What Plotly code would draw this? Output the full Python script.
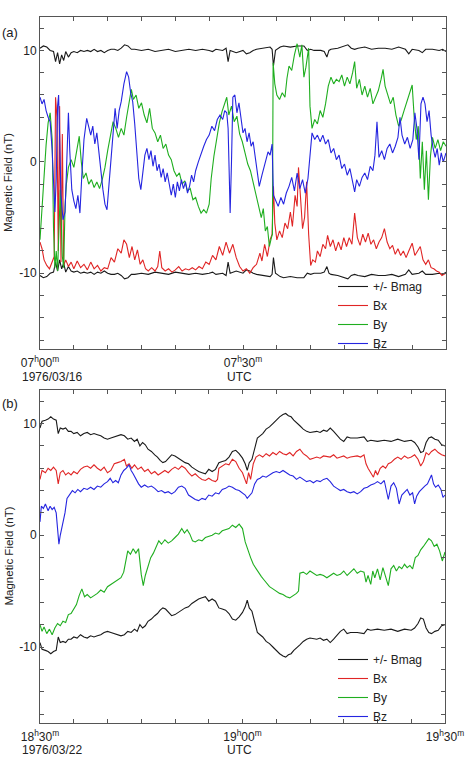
import plotly.graph_objects as go

W, H = 465, 759

# ---------------- Panel (a): 1976/03/16 07:00-08:00 UTC (minutes after 07:00) ----------------
a_bmag_t = [0, 0.5, 1.0, 1.5, 2.0, 2.3, 2.6, 2.9, 3.2, 3.5, 3.8, 4.2, 4.6, 5.0, 5.5, 6.0, 6.5, 7, 7.5, 8, 8.5, 9, 9.5, 10,
            10.5, 11, 11.5, 12, 12.5, 13, 13.5, 14, 15, 16, 17, 18, 19, 20, 21, 22, 23, 24, 25, 25.5, 26, 27, 27.5, 27.8,
            28.1, 28.5, 29, 30, 30.5, 31, 31.5, 32, 33, 34, 34.3, 34.5, 34.8, 35.5, 36, 37, 38, 39, 39.5, 40, 40.5, 41.5,
            42, 42.4, 42.7, 43, 44, 45, 45.5, 46, 46.5, 47, 48, 49, 50, 51, 52, 53, 54, 54.5, 55, 56, 56.5, 57, 58, 59,
            59.5, 60]
a_bmag_v = [10.2, 10.4, 10.3, 10.0, 9.9, 9.0, 9.8, 8.8, 9.6, 9.1, 9.9, 9.4, 9.8, 9.9, 9.8, 10.0, 9.9, 10.0, 9.9, 10.1,
            9.9, 10.0, 9.8, 10.0, 10.1, 10.1, 10.0, 10.2, 10.5, 10.4, 10.1, 10.1, 10.0, 10.1, 9.9, 10.0, 10.1, 9.9, 10.0,
            10.1, 10.0, 10.1, 10.0, 9.9, 10.1, 10.0, 10.2, 9.0, 10.0, 9.9, 9.8, 10.0, 9.7, 9.8, 10.0, 10.1, 10.2, 10.3,
            10.1, 8.6, 10.0, 10.3, 10.4, 10.3, 10.4, 10.4, 10.0, 10.1, 10.0, 10.0, 9.9, 9.4, 10.0, 10.1, 10.2, 10.4, 10.5,
            10.2, 10.1, 10.2, 10.3, 10.1, 10.2, 10.2, 10.1, 10.3, 10.1, 9.7, 10.1, 10.0, 9.8, 10.1, 10.1, 10.0, 10.1, 9.9]

a_bx_t = [0, 0.3, 0.6, 1.0, 1.4, 1.8, 2.1, 2.3, 2.5, 2.7, 2.9, 3.1, 3.3, 3.5, 3.8, 4.2, 4.6, 5.0, 5.5, 6.0, 6.5, 7.0, 7.5,
          8.0, 8.5, 9.0, 9.5, 10.0, 10.5, 11.0, 11.5, 12.0, 12.4, 12.8, 13.2, 13.6, 14.0, 14.4, 14.8, 15.2, 15.6, 16.0,
          16.5, 17.0, 17.4, 17.7, 18.0, 18.5, 19.0, 19.5, 20, 20.5, 21, 21.5, 22, 22.5, 23, 23.5, 24, 24.5, 25, 25.5, 26,
          26.5, 27, 27.5, 28, 28.5, 29, 29.5, 30, 30.5, 31, 31.5, 32, 32.5, 32.8, 33.2, 33.6, 34.0, 34.3, 34.5, 34.7, 35.0,
          35.4, 35.8, 36.2, 36.6, 37.0, 37.3, 37.7, 38.0, 38.2, 38.5, 38.8, 39.1, 39.4, 39.7, 40.0, 40.3, 40.7, 41.0, 41.4,
          41.8, 42.2, 42.5, 42.9, 43.3, 43.7, 44.1, 44.5, 44.9, 45.3, 45.7, 46.1, 46.5, 46.9, 47.3, 47.7, 48.1, 48.5, 48.9,
          49.3, 49.7, 50.1, 50.5, 50.9, 51.3, 51.7, 52.1, 52.5, 52.9, 53.3, 53.7, 54.1, 54.5, 55.0, 55.4, 55.8, 56.2, 56.6,
          57.0, 57.4, 57.8, 58.2, 58.6, 59.0, 59.4, 60]
a_bx_v = [-7.2, -7.8, -8.8, -9.3, -9.6, -9.0, -8.5, 5.8, 4.0, -8.0, 5.0, -9.0, 2.5, -9.3, -8.8, -9.4, -9.0, -9.6, -8.9,
          -9.5, -9.2, -9.7, -9.0, -9.6, -9.3, -9.8, -9.5, -9.6, -8.6, -9.0, -7.8, -8.2, -7.0, -7.4, -8.6, -7.6, -8.8, -7.9,
          -9.2, -8.8, -9.6, -9.8, -9.5, -9.8, -9.4, -8.0, -9.5, -9.8, -9.6, -9.9, -9.7, -9.4, -9.8, -9.6, -9.7, -9.5, -9.7,
          -9.4, -9.6, -9.0, -9.2, -8.4, -8.8, -7.6, -8.4, -7.2, -8.2, -7.4, -8.6, -9.4, -9.8, -9.6, -10.0, -9.5, -9.2, -8.2,
          -8.9, -7.4, -8.5, -7.0, -6.5, -2.2, -5.5, -7.0, -6.2, -6.8, -5.5, -6.0, -4.5, -5.8, -3.0, -4.0, -0.5, -3.2, -6.0,
          -5.0, -1.8, -6.5, -9.3, -8.8, -9.0, -8.0, -8.5, -7.4, -7.8, -6.6, -7.6, -7.0, -8.0, -7.2, -7.9, -6.8, -7.6, -6.8,
          -7.4, -4.6, -6.8, -7.5, -6.5, -7.2, -6.4, -7.4, -7.0, -7.8, -7.2, -6.8, -6.0, -7.2, -7.8, -7.5, -8.3, -7.8, -8.4,
          -8.0, -8.6, -8.0, -7.3, -8.4, -8.0, -7.6, -8.8, -9.2, -8.8, -9.5, -9.6, -9.8, -9.9, -10.2, -10.0]

a_by_t = [0, 0.3, 0.6, 0.9, 1.2, 1.5, 1.8, 2.0, 2.2, 2.4, 2.6, 2.8, 3.0, 3.3, 3.5, 3.7, 3.9, 4.2, 4.6, 5.0, 5.4, 5.8, 6.1,
          6.4, 6.8, 7.2, 7.6, 8.0, 8.4, 8.8, 9.2, 9.6, 10.0, 10.4, 10.8, 11.2, 11.6, 12.0, 12.4, 12.8, 13.2, 13.5, 13.8,
          14.2, 14.6, 15.0, 15.4, 15.8, 16.2, 16.6, 17.0, 17.4, 17.8, 18.2, 18.6, 19.0, 19.4, 19.8, 20.2, 20.6, 21.0, 21.4,
          21.8, 22.2, 22.6, 23.0, 23.4, 23.8, 24.2, 24.6, 25.0, 25.3, 25.7, 26.1, 26.5, 26.9, 27.3, 27.6, 27.9, 28.3, 28.7,
          29.1, 29.5, 29.9, 30.3, 30.7, 31.1, 31.5, 31.9, 32.3, 32.7, 33.0, 33.3, 33.6, 33.9, 34.2, 34.35, 34.45, 34.7,
          35.0, 35.4, 35.8, 36.2, 36.5, 36.8, 37.2, 37.6, 38.0, 38.4, 38.7, 39.0, 39.3, 39.7, 39.9, 40.2, 40.6, 41.0, 41.4,
          41.8, 42.2, 42.6, 43.0, 43.4, 43.8, 44.2, 44.6, 45.0, 45.4, 45.8, 46.2, 46.5, 46.8, 47.2, 47.6, 48.0, 48.4, 48.8,
          49.2, 49.6, 50.0, 50.4, 50.7, 51.0, 51.4, 51.8, 52.2, 52.6, 53.0, 53.4, 53.8, 54.2, 54.6, 55.0, 55.3, 55.6, 55.9,
          56.2, 56.5, 56.8, 57.1, 57.4, 57.7, 58.0, 58.4, 58.8, 59.2, 59.6, 60]
a_by_v = [-7.0, -4.0, -1.0, 1.5, 3.5, 4.4, 2.0, -6.0, -9.5, -8.0, -9.8, -5.0, -2.5, -8.5, -9.5, -4.0, -2.0, -0.5, 0.2,
          -0.5, 0.8, 2.3, 0.0, -1.5, -1.0, -2.0, -1.6, -2.3, -1.8, -2.4, -1.6, -0.5, 1.0, 2.2, 3.6, 3.0, 2.2, 3.0, 2.4, 4.0,
          5.5, 6.5, 5.6, 6.0, 4.8, 5.3, 4.2, 3.5, 4.8, 3.0, 2.6, 1.8, 2.4, 1.2, 1.6, 0.6, 0.2, -0.8, -1.3, -1.0, -2.0, -1.7,
          -2.6, -2.4, -3.4, -3.2, -4.0, -4.6, -4.3, -4.6, -3.8, -1.5, 0.5, 2.2, 3.5, 4.5, 5.2, 5.8, 4.2, 5.0, 3.6, 4.1, 2.5,
          1.8, 0.8, -0.2, -0.8, -1.8, -2.8, -3.8, -5.0, -4.2, -6.2, -5.8, -7.6, -6.8, -6.5, 8.9, 7.0, 6.0, 5.6, 6.2, 5.8,
          7.5, 8.6, 8.2, 9.6, 10.6, 9.4, 10.5, 7.6, 8.5, 10.2, 5.0, 3.0, 3.8, 3.4, 4.6, 4.0, 5.2, 6.8, 7.6, 7.0, 7.4, 7.2,
          7.8, 6.8, 7.6, 7.0, 8.0, 9.0, 6.6, 7.4, 6.0, 6.8, 5.8, 6.6, 5.2, 5.8, 6.4, 7.4, 8.3, 6.8, 6.0, 5.2, 5.8, 4.2, 3.2,
          3.8, 4.6, 5.4, 6.2, 6.9, 4.0, 2.0, 3.2, -1.5, 1.8, -2.5, 1.0, -3.4, 0.5, 2.2, 1.2, 2.0, 1.0, 1.8, 1.4]

a_bz_t = [0, 0.3, 0.6, 0.9, 1.2, 1.5, 1.8, 2.0, 2.2, 2.4, 2.6, 2.75, 2.9, 3.1, 3.4, 3.7, 3.9, 4.1, 4.2, 4.4, 4.7, 5.0,
          5.3, 5.6, 5.9, 6.2, 6.5, 6.9, 7.2, 7.5, 7.8, 8.1, 8.4, 8.7, 9.0, 9.3, 9.6, 9.9, 10.2, 10.5, 10.8, 11.1, 11.4,
          11.7, 12.0, 12.4, 12.8, 13.1, 13.4, 13.7, 14.0, 14.3, 14.6, 14.9, 15.2, 15.5, 15.8, 16.1, 16.4, 16.7, 17.0, 17.3,
          17.6, 17.9, 18.2, 18.5, 18.8, 19.1, 19.4, 19.7, 20.0, 20.3, 20.6, 20.9, 21.2, 21.5, 21.8, 22.1, 22.4, 22.7, 23.0,
          23.4, 23.8, 24.2, 24.6, 25.0, 25.4, 25.8, 26.2, 26.6, 27.0, 27.3, 27.6, 27.8, 28.0, 28.1, 28.3, 28.5, 28.8, 29.1,
          29.4, 29.7, 30.0, 30.3, 30.6, 30.9, 31.2, 31.5, 31.8, 32.1, 32.4, 32.8, 33.1, 33.4, 33.7, 34.0, 34.3, 34.5, 34.8,
          35.2, 35.6, 36.0, 36.4, 36.8, 37.2, 37.6, 38.0, 38.4, 38.8, 39.2, 39.6, 39.9, 40.2, 40.6, 41.0, 41.4, 41.8, 42.2,
          42.6, 43.0, 43.4, 43.8, 44.2, 44.6, 45.0, 45.4, 45.8, 46.2, 46.5, 46.8, 47.2, 47.6, 48.0, 48.4, 48.8, 49.2, 49.5,
          49.8, 50.1, 50.5, 50.9, 51.3, 51.7, 52.1, 52.5, 52.9, 53.2, 53.5, 53.9, 54.3, 54.7, 55.1, 55.4, 55.7, 56.0, 56.3,
          56.6, 56.9, 57.2, 57.5, 57.8, 58.1, 58.4, 58.7, 59.0, 59.3, 59.6, 60]
a_bz_v = [5.8, 5.2, 5.6, 4.6, 4.0, 3.6, 1.0, -2.0, -4.5, -1.5, 5.0, 6.0, 2.0, -3.0, -5.2, -4.5, -1.0, 3.0, 4.4, 1.0, -2.5,
          -3.5, -4.2, -3.0, -4.6, -1.0, 2.0, 3.9, 3.0, 2.4, 3.2, 1.6, 2.6, 0.8, -0.5, -2.5, -3.8, -4.3, -2.0, 0.2, 2.6, 4.8,
          3.0, 4.6, 5.4, 7.0, 8.1, 7.6, 6.2, 5.4, 3.4, 1.0, -1.5, -2.5, -1.0, 0.6, 1.2, 0.2, 1.0, -0.4, 0.6, -0.8, -0.2,
          -1.4, -0.6, -1.8, -1.0, -2.2, -3.0, -2.0, -3.2, -1.8, -2.6, -1.6, -2.4, -1.8, -2.8, -2.2, -1.2, -1.8, -0.8, 0.0,
          0.8, 1.4, 2.0, 2.4, 3.2, 2.8, 3.8, 4.2, 3.8, 4.6, 4.4, 3.0, -2.0, -4.6, 0.0, 5.8, 6.0, 4.4, 5.3, 4.0, 2.6, 3.0,
          1.8, 2.6, 1.4, 1.8, 0.6, -1.0, -2.2, -1.2, -0.4, 0.4, 0.9, 0.6, 1.6, -3.0, -3.4, -4.0, -3.2, -3.8, -2.8, -2.2,
          -1.4, -2.6, -1.0, -2.4, -1.6, -2.8, -1.5, 1.0, 2.6, 2.0, 2.4, 1.8, 2.4, 1.6, 2.0, 0.8, 1.2, 0.2, 0.6, -0.6, -0.2,
          -1.2, -0.6, -1.8, -2.7, -1.6, -2.2, -1.4, -1.0, -1.6, -0.4, -0.8, 0.6, 3.6, 0.4, 1.0, 0.2, 1.2, 1.6, 0.8, 1.4, 2.2,
          4.0, 2.4, 1.6, 2.2, 1.2, 2.0, 4.4, 3.0, 0.2, 5.2, 5.8, 5.2, 3.6, 4.6, 2.4, 1.2, 0.4, 1.2, -0.3, 0.8, 0.0, 0.8]

# ---------------- Panel (b): 1976/03/22 18:30-19:30 UTC (minutes after 18:30) ----------------
b_bmag_t = [0, 0.3, 0.8, 1.2, 1.6, 2.0, 2.4, 2.7, 3.0, 3.4, 3.8, 4.2, 4.6, 5.0, 5.5, 6.0, 6.5, 7.0, 7.5, 8.0, 8.5, 9.0,
            9.5, 10.0, 10.5, 11.0, 11.5, 12.0, 12.5, 13.0, 13.5, 14.0, 14.4, 14.8, 15.2, 15.6, 16.0, 16.5, 17.0, 17.4, 17.8,
            18.2, 18.6, 19.0, 19.5, 20.0, 20.5, 21.0, 21.5, 22.0, 22.5, 23.0, 23.5, 24.0, 24.5, 25.0, 25.5, 26.0, 26.5,
            27.0, 27.5, 28.0, 28.5, 29.0, 29.5, 30.0, 30.4, 30.7, 31.0, 31.4, 31.8, 32.2, 32.6, 33.0, 33.5, 34.0, 34.5,
            35.0, 35.5, 36.0, 36.4, 36.8, 37.2, 37.6, 38.0, 38.5, 39.0, 39.5, 40.0, 41.0, 41.5, 42.0, 42.5, 43.0, 43.5,
            44.0, 44.5, 45.0, 45.5, 46.0, 47.0, 48.0, 48.5, 49.0, 50.0, 51.0, 52.0, 53.0, 54.0, 55.0, 55.5, 56.0, 56.4,
            56.8, 57.2, 57.6, 58.0, 58.5, 59.0, 59.5, 60]
b_bmag_v = [9.6, 10.2, 10.3, 10.4, 10.6, 10.4, 10.3, 9.1, 9.6, 9.5, 9.6, 9.3, 9.3, 9.1, 9.2, 8.9, 9.1, 9.2, 9.0, 9.1, 9.0,
            8.9, 8.7, 8.6, 8.7, 8.8, 8.9, 9.0, 8.9, 8.6, 8.7, 8.4, 8.6, 8.0, 8.3, 8.1, 7.7, 7.5, 7.2, 7.0, 6.7, 6.5, 6.6,
            6.9, 7.2, 7.1, 6.9, 6.7, 6.5, 6.4, 6.1, 5.9, 5.7, 5.6, 5.5, 5.9, 5.7, 5.9, 6.5, 6.6, 6.7, 7.0, 7.5, 7.6, 7.3,
            6.9, 6.4, 5.8, 6.5, 6.8, 7.9, 8.7, 8.9, 9.1, 9.5, 9.7, 10.0, 10.3, 10.6, 10.8, 10.9, 10.7, 10.6, 10.3, 10.1,
            9.8, 9.5, 9.3, 9.2, 9.3, 9.2, 9.4, 9.3, 9.6, 9.3, 8.9, 8.6, 8.4, 8.8, 8.7, 8.7, 8.8, 8.4, 8.5, 8.4, 8.5, 8.4,
            8.6, 8.4, 8.5, 8.3, 7.9, 7.4, 7.5, 8.3, 8.7, 8.8, 8.6, 8.5, 8.1, 8.0]

b_bx_t = [0, 0.3, 0.8, 1.2, 1.6, 2.0, 2.4, 2.7, 3.0, 3.4, 3.8, 4.2, 4.6, 5.0, 5.5, 6.0, 6.5, 7.0, 7.5, 8.0, 8.5, 9.0, 9.5,
          10.0, 10.5, 11.0, 11.5, 12.0, 12.5, 12.8, 13.2, 13.6, 14.0, 14.5, 15.0, 15.5, 16.0, 16.5, 17.0, 17.5, 18.0, 18.5,
          19.0, 19.5, 20.0, 20.5, 21.0, 21.5, 22.0, 22.5, 23.0, 23.5, 24.0, 24.5, 25.0, 25.5, 26.0, 26.3, 26.5, 27.0, 27.5,
          28.0, 28.5, 29.0, 29.5, 30.0, 30.3, 30.6, 30.9, 31.2, 31.6, 32.0, 32.5, 33.0, 33.5, 34.0, 34.5, 35.0, 35.5, 36.0,
          36.5, 37.0, 37.5, 38.0, 38.5, 39.0, 39.5, 40.0, 40.5, 41.0, 41.5, 42.0, 43.0, 43.5, 44.0, 45.0, 45.5, 46.0, 47.0,
          47.5, 48.0, 48.3, 48.6, 49.0, 49.4, 49.7, 50.0, 50.4, 50.8, 51.2, 51.6, 52.0, 52.5, 53.0, 53.5, 54.0, 54.5, 55.0,
          55.5, 56.0, 56.4, 56.8, 57.2, 57.6, 58.0, 58.5, 59.0, 59.5, 60]
b_bx_v = [5.0, 5.8, 5.6, 6.0, 5.8, 6.1, 5.8, 4.6, 5.6, 5.8, 5.4, 5.6, 5.4, 5.7, 5.5, 5.9, 6.1, 6.2, 6.0, 6.3, 6.0, 5.8,
          6.1, 5.6, 5.8, 6.4, 6.5, 6.6, 6.8, 6.2, 6.4, 6.0, 6.3, 5.9, 6.1, 5.7, 5.9, 5.5, 5.7, 5.4, 5.6, 5.8, 5.6, 5.9, 6.1,
          5.9, 6.2, 6.0, 5.6, 5.3, 5.5, 5.2, 5.0, 4.9, 5.1, 4.9, 4.8, 5.0, 6.0, 6.2, 6.4, 6.3, 6.8, 6.6, 6.0, 5.6, 5.0, 4.6,
          5.6, 5.0, 6.4, 7.0, 7.2, 7.0, 7.3, 7.1, 7.4, 7.2, 7.5, 7.3, 7.2, 7.4, 7.1, 7.5, 7.7, 7.3, 7.1, 6.8, 6.9, 7.0, 6.9,
          7.1, 7.0, 7.2, 6.9, 7.1, 6.9, 7.0, 7.1, 7.0, 7.2, 6.4, 6.0, 5.6, 5.2, 5.8, 5.4, 6.0, 6.2, 6.0, 6.4, 6.5, 6.8, 7.0,
          6.8, 7.1, 6.9, 7.0, 7.2, 6.8, 6.2, 6.6, 7.4, 7.2, 7.5, 7.7, 7.4, 7.2, 7.1]

b_by_t = [0, 0.3, 0.6, 1.0, 1.4, 1.8, 2.2, 2.6, 3.0, 3.4, 3.8, 4.2, 4.6, 5.0, 5.4, 5.8, 6.2, 6.6, 7.0, 7.5, 8.0, 8.5, 9.0,
          9.5, 10.0, 10.5, 11.0, 11.5, 12.0, 12.4, 12.8, 13.0, 13.4, 13.8, 14.2, 14.6, 15.0, 15.3, 15.6, 16.0, 16.4, 16.8,
          17.2, 17.6, 18.0, 18.5, 19.0, 19.5, 20.0, 20.5, 21.0, 21.4, 21.8, 22.2, 22.6, 23.0, 23.5, 24.0, 24.5, 25.0, 25.5,
          26.0, 26.5, 27.0, 27.5, 28.0, 28.5, 29.0, 29.5, 30.0, 30.4, 30.8, 31.2, 31.6, 32.0, 32.4, 32.8, 33.2, 33.6, 34.0,
          34.5, 35.0, 35.5, 36.0, 36.5, 37.0, 37.5, 38.0, 38.3, 38.5, 39.0, 39.5, 40.0, 40.5, 41.0, 41.5, 42.0, 42.5, 43.0,
          43.5, 44.0, 44.5, 45.0, 45.5, 46.0, 46.5, 47.0, 47.5, 48.0, 48.3, 48.6, 49.0, 49.3, 49.6, 50.0, 50.4, 50.8, 51.2,
          51.6, 52.0, 52.4, 52.8, 53.2, 53.6, 54.0, 54.4, 54.8, 55.2, 55.6, 56.0, 56.4, 56.8, 57.2, 57.6, 58.0, 58.4, 58.8,
          59.2, 59.6, 60]
b_by_v = [-8.0, -8.6, -8.2, -8.8, -8.4, -8.9, -8.3, -7.9, -8.1, -7.7, -7.8, -7.1, -7.0, -6.6, -6.2, -5.4, -4.8, -5.5,
          -5.3, -5.6, -5.4, -5.2, -4.9, -5.1, -4.6, -4.4, -4.2, -4.0, -3.8, -3.3, -2.0, -1.4, -1.7, -1.2, -1.6, -1.2, -3.5,
          -4.5, -3.6, -2.8, -2.0, -1.6, -1.0, -0.5, -0.8, -0.4, -0.7, -0.5, -0.2, 0.1, 0.6, 0.2, 0.5, 0.1, -0.5, -0.6, -0.4,
          -0.5, -0.2, -0.1, 0.0, 0.2, 0.1, 0.4, 0.5, 0.6, 0.9, 0.7, 1.0, 0.6, -0.6, -1.4, -2.0, -2.6, -3.0, -3.4, -3.7, -4.0,
          -4.3, -4.6, -4.8, -5.0, -5.2, -5.3, -5.5, -5.6, -5.4, -5.2, -5.0, -3.4, -3.3, -3.5, -3.2, -3.4, -3.6, -3.5, -3.6,
          -3.8, -3.6, -3.4, -3.6, -3.5, -3.2, -3.6, -3.3, -3.0, -3.4, -3.2, -3.3, -4.2, -3.6, -4.4, -3.2, -3.8, -3.0, -4.0,
          -2.9, -3.6, -4.5, -3.0, -2.7, -3.2, -2.8, -3.0, -2.6, -2.9, -2.7, -3.0, -2.0, -1.8, -1.3, -1.0, -0.6, -0.3, -0.5,
          -1.0, -0.8, -1.4, -2.3, -1.5]

b_bz_t = [0, 0.2, 0.5, 0.8, 1.2, 1.5, 1.8, 2.1, 2.4, 2.6, 2.8, 3.0, 3.2, 3.5, 3.7, 4.0, 4.4, 4.8, 5.2, 5.6, 6.0, 6.5, 7.0,
          7.5, 8.0, 8.5, 9.0, 9.5, 10.0, 10.4, 10.8, 11.2, 11.6, 12.0, 12.4, 12.8, 13.2, 13.5, 13.8, 14.2, 14.6, 15.0, 15.5,
          16.0, 16.5, 17.0, 17.5, 18.0, 18.5, 19.0, 19.5, 20.0, 20.5, 21.0, 21.5, 22.0, 22.5, 23.0, 23.5, 24.0, 24.5, 25.0,
          25.5, 26.0, 26.5, 27.0, 27.5, 28.0, 28.5, 29.0, 29.5, 30.0, 30.4, 30.7, 31.0, 31.4, 31.8, 32.2, 32.6, 33.0, 33.5,
          34.0, 34.5, 35.0, 35.5, 36.0, 36.5, 37.0, 37.5, 38.0, 38.5, 39.0, 39.5, 40.0, 40.5, 41.0, 41.5, 42.0, 42.5, 43.0,
          43.5, 44.0, 44.5, 45.0, 45.5, 46.0, 46.5, 47.0, 47.5, 48.0, 48.5, 49.0, 49.5, 50.0, 50.5, 51.0, 51.3, 51.6, 52.0,
          52.4, 52.8, 53.2, 53.6, 54.0, 54.4, 54.8, 55.2, 55.5, 55.8, 56.2, 56.6, 57.0, 57.4, 57.8, 58.0, 58.3, 58.6, 59.0,
          59.4, 59.7, 60]
b_bz_v = [1.2, 2.6, 2.4, 2.8, 2.2, 2.6, 2.3, 2.5, 2.0, 0.2, -0.8, 0.0, 0.6, 1.4, 2.0, 3.3, 3.7, 4.0, 3.8, 4.1, 3.9, 4.2,
          4.1, 4.3, 4.1, 4.4, 4.3, 4.6, 4.8, 5.1, 4.7, 4.9, 4.7, 5.4, 5.8, 6.0, 6.3, 5.8, 5.5, 5.0, 4.6, 4.3, 4.5, 4.3, 4.4,
          4.2, 3.9, 4.0, 3.8, 3.9, 3.7, 3.9, 4.3, 4.4, 4.2, 3.6, 3.4, 3.2, 3.1, 3.3, 3.2, 3.6, 3.5, 3.8, 3.7, 4.1, 4.2, 4.4,
          4.3, 4.1, 4.0, 3.8, 3.6, 3.3, 3.5, 3.8, 4.6, 5.0, 5.1, 5.3, 5.2, 5.4, 5.6, 5.7, 5.6, 5.8, 5.6, 5.4, 5.3, 5.0, 5.2,
          5.0, 4.8, 4.9, 4.7, 4.9, 4.8, 5.0, 5.1, 4.8, 4.4, 4.2, 4.0, 4.1, 3.9, 3.8, 3.9, 3.7, 3.9, 4.2, 4.3, 4.5, 4.6, 4.8,
          4.6, 4.9, 4.0, 3.2, 4.4, 4.7, 4.2, 2.8, 3.6, 3.9, 4.1, 3.6, 3.8, 2.8, 3.5, 3.9, 4.2, 4.4, 4.6, 5.2, 5.4, 4.6, 4.3,
          4.5, 4.1, 3.4, 3.6]

# ---------------- labels ----------------
y_tickvals = [-10, 0, 10]
y_ticktext = ["-10", "0", "10"]
x_tickvals = [0, 30, 60]
a_xticktext = ["07<sup>h</sup>00<sup>m</sup>", "07<sup>h</sup>30<sup>m</sup>", "08<sup>h</sup>00<sup>m</sup>"]
b_xticktext = ["18<sup>h</sup>30<sup>m</sup>", "19<sup>h</sup>00<sup>m</sup>", "19<sup>h</sup>30<sup>m</sup>"]
a_date, b_date = "1976/03/16", "1976/03/22"
series_names = ["+/- Bmag", "Bx", "By", "Bz"]
colors = ["#1a1a1a", "#e02525", "#1fae1f", "#2525e0"]

FONT = "Liberation Sans, Arial, sans-serif"
TXT = "#222222"


def px_x(x):
    return x / W


def px_y(y):
    return 1 - y / H


fig = go.Figure()


def add_panel(xa, ya, leg, bm_t, bm_v, bx_t, bx_v, by_t, by_v, bz_t, bz_v):
    # +/- Bmag
    fig.add_trace(go.Scatter(x=bm_t, y=bm_v, mode="lines", name=series_names[0], legendgroup=leg + "bm",
                             line=dict(color=colors[0], width=1.1), xaxis=xa, yaxis=ya, legend=leg))
    fig.add_trace(go.Scatter(x=bm_t, y=[-v for v in bm_v], mode="lines", name=series_names[0],
                             legendgroup=leg + "bm", showlegend=False,
                             line=dict(color=colors[0], width=1.1), xaxis=xa, yaxis=ya, legend=leg))
    for name, t, v, c in [(series_names[1], bx_t, bx_v, colors[1]),
                          (series_names[2], by_t, by_v, colors[2]),
                          (series_names[3], bz_t, bz_v, colors[3])]:
        fig.add_trace(go.Scatter(x=t, y=v, mode="lines", name=name, line=dict(color=c, width=1.1),
                                 xaxis=xa, yaxis=ya, legend=leg))


add_panel("x", "y", "legend", a_bmag_t, a_bmag_v, a_bx_t, a_bx_v, a_by_t, a_by_v, a_bz_t, a_bz_v)
add_panel("x2", "y2", "legend2", b_bmag_t, b_bmag_v, b_bx_t, b_bx_v, b_by_t, b_by_v, b_bz_t, b_bz_v)

axis_common = dict(showline=True, linecolor="#555555", linewidth=1, mirror="ticks", ticks="inside",
                   ticklen=4, tickcolor="#555555", showgrid=False, zeroline=False, automargin=False,
                   tickfont=dict(family=FONT, size=12, color=TXT), fixedrange=True)

xa_common = dict(axis_common, range=[0, 60], tickmode="array", tickvals=x_tickvals, ticklabelstandoff=3,
                 minor=dict(tickmode="linear", tick0=0, dtick=5, ticks="inside", ticklen=4, tickcolor="#555555"))
ya_common = dict(axis_common, range=[-16.8, 13], tickmode="array", tickvals=y_tickvals, ticktext=y_ticktext,
                 minor=dict(tickmode="linear", tick0=0, dtick=2, ticks="inside", ticklen=4, tickcolor="#555555"))

a_top, a_bot = 17, 349
b_top, b_bot = 390, 723
x_left, x_right = 40, 446

fig.update_layout(
    width=W, height=H, margin=dict(l=0, r=0, t=0, b=0),
    paper_bgcolor="white", plot_bgcolor="white",
    font=dict(family=FONT, size=12, color=TXT),
    xaxis=dict(xa_common, domain=[px_x(x_left), px_x(x_right)], anchor="y", ticktext=a_xticktext),
    yaxis=dict(ya_common, domain=[px_y(a_bot), px_y(a_top)], anchor="x"),
    xaxis2=dict(xa_common, domain=[px_x(x_left), px_x(x_right - 1)], anchor="y2", ticktext=b_xticktext),
    yaxis2=dict(ya_common, domain=[px_y(b_bot), px_y(b_top)], anchor="x2"),
    legend=dict(x=px_x(333), y=px_y(272), xanchor="left", yanchor="top", bgcolor="rgba(0,0,0,0)",
                font=dict(family=FONT, size=12, color=TXT), tracegroupgap=0, itemwidth=30),
    legend2=dict(x=px_x(333), y=px_y(645), xanchor="left", yanchor="top", bgcolor="rgba(0,0,0,0)",
                 font=dict(family=FONT, size=12, color=TXT), tracegroupgap=0, itemwidth=30),
    showlegend=True,
)

annots = [
    dict(text="(a)", x=px_x(0), y=px_y(32), xanchor="left", yanchor="middle", font=dict(size=13)),
    dict(text="(b)", x=px_x(0), y=px_y(403), xanchor="left", yanchor="middle", font=dict(size=13)),
    dict(text="Magnetic Field (nT)", x=px_x(8), y=px_y((a_top + a_bot) / 2), textangle=-90,
         xanchor="center", yanchor="middle", font=dict(size=11.5)),
    dict(text="Magnetic Field (nT)", x=px_x(8), y=px_y((b_top + b_bot) / 2), textangle=-90,
         xanchor="center", yanchor="middle", font=dict(size=11.5)),
    dict(text=a_date, x=px_x(20), y=px_y(377), xanchor="left", yanchor="middle"),
    dict(text=b_date, x=px_x(20), y=px_y(750), xanchor="left", yanchor="middle"),
    dict(text="UTC", x=px_x(239), y=px_y(377), xanchor="center", yanchor="middle"),
    dict(text="UTC", x=px_x(239), y=px_y(750), xanchor="center", yanchor="middle"),
]
for a in annots:
    a.setdefault("font", {})
    a["font"] = dict(dict(family=FONT, size=12, color=TXT), **a["font"])
    fig.add_annotation(xref="paper", yref="paper", showarrow=False, **a)

fig.write_html("out.html")
